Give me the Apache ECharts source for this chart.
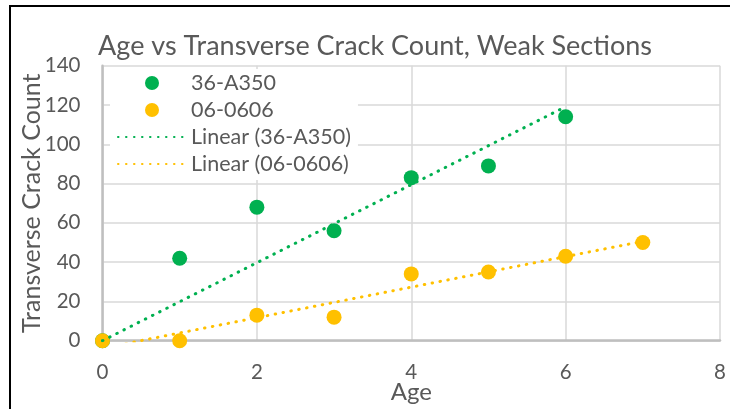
<!DOCTYPE html>
<html><head><meta charset="utf-8">
<script src="https://cdn.jsdelivr.net/npm/echarts@6/dist/echarts.min.js"></script>
<style>html,body{margin:0;padding:0;background:#fff}#c{width:730px;height:409px}</style>
</head><body><div id="c"></div>
<script>
// Data
const ages36 = [0, 1, 2, 3, 4, 5, 6];
const counts36 = [0, 42, 68, 56, 83, 89, 114];
const ages06 = [0, 1, 2, 3, 4, 5, 6, 7];
const counts06 = [0, 0, 13, 12, 34, 35, 43, 50];
const name36 = '36-A350';
const name06 = '06-0606';
const titleText = 'Age vs Transverse Crack Count, Weak Sections';
const xName = 'Age';
const yName = 'Transverse Crack Count';

// Excel-style linear trendlines (least squares fit of the data above)
function fitThroughOrigin(xs, ys) {
  let sxy = 0, sxx = 0;
  xs.forEach((x, i) => { sxy += x * ys[i]; sxx += x * x; });
  return { a: 0, b: sxy / sxx };
}
function fitOLS(xs, ys) {
  const n = xs.length;
  const mx = xs.reduce((s, v) => s + v, 0) / n;
  const my = ys.reduce((s, v) => s + v, 0) / n;
  let sxy = 0, sxx = 0;
  xs.forEach((x, i) => { sxy += (x - mx) * (ys[i] - my); sxx += (x - mx) * (x - mx); });
  const b = sxy / sxx;
  return { a: my - b * mx, b: b };
}
function trendPoints(xs, fit) {
  const x0 = Math.min.apply(null, xs), x1 = Math.max.apply(null, xs);
  return [[x0, fit.a + fit.b * x0], [x1, fit.a + fit.b * x1]];
}
const trend36 = trendPoints(ages36, fitThroughOrigin(ages36, counts36));
const trend06 = trendPoints(ages06, fitOLS(ages06, counts06));

const GREEN = '#00B050', YELLOW = '#FFC000', TXT = '#595959';
const FONT = 'Lato';
const chart = echarts.init(document.getElementById('c'), null, { renderer: 'canvas' });
chart.setOption({
  animation: false,
  backgroundColor: '#fff',
  textStyle: { fontFamily: FONT },
  title: {
    text: titleText, left: 370, top: 28, textAlign: 'center',
    textStyle: { fontFamily: FONT, fontSize: 27, fontWeight: 'normal', color: TXT }
  },
  grid: { left: 102.5, right: 10, top: 65.7, bottom: 68.3, containLabel: false, outerBoundsMode: 'none' },
  legend: {
    orient: 'vertical', left: 110, top: 69,
    data: [
      { name: name36 },
      { name: name06 },
      { name: 'Linear (' + name36 + ')', itemStyle: { opacity: 0 } },
      { name: 'Linear (' + name06 + ')', itemStyle: { opacity: 0 } }
    ],
    itemWidth: 68, itemHeight: 14, itemGap: 5,
    padding: [3, 7, 5, 7],
    backgroundColor: '#fff',
    textStyle: { fontFamily: FONT, fontSize: 21.5, color: TXT, lineHeight: 22 },
    z: 10
  },
  xAxis: {
    type: 'value', min: 0, max: 8, interval: 2,
    name: xName, nameLocation: 'middle', nameGap: 40, nameMoveOverlap: false,
    nameTextStyle: { fontFamily: FONT, fontSize: 24, color: TXT },
    axisLine: { show: true, onZero: false, lineStyle: { color: '#bfbfbf', width: 2.5 } },
    axisTick: { show: false },
    axisLabel: { fontFamily: FONT, fontSize: 20.5, color: TXT, margin: 21 },
    splitLine: { show: true, lineStyle: { color: '#d9d9d9', width: 1.5 } }
  },
  yAxis: {
    type: 'value', min: 0, max: 140, interval: 20,
    name: yName, nameLocation: 'middle', nameGap: 58, nameMoveOverlap: false,
    nameTextStyle: { fontFamily: FONT, fontSize: 25, color: TXT },
    axisLine: { show: true, onZero: false, lineStyle: { color: '#bfbfbf', width: 2.5 } },
    axisTick: { show: false },
    axisLabel: { fontFamily: FONT, fontSize: 20.5, color: TXT, margin: 22 },
    splitLine: { show: true, lineStyle: { color: '#d9d9d9', width: 1.5 } }
  },
  series: [
    { name: name36, type: 'scatter', symbol: 'circle', symbolSize: 15,
      itemStyle: { color: GREEN, opacity: 1 },
      data: ages36.map((x, i) => [x, counts36[i]]) },
    { name: name06, type: 'scatter', symbol: 'circle', symbolSize: 15,
      itemStyle: { color: YELLOW, opacity: 1 },
      data: ages06.map((x, i) => [x, counts06[i]]) },
    { name: 'Linear (' + name36 + ')', type: 'line', symbol: 'none', clip: true,
      color: GREEN,
      lineStyle: { color: GREEN, width: 3, type: [0.5, 7.5], cap: 'round' },
      data: trend36 },
    { name: 'Linear (' + name06 + ')', type: 'line', symbol: 'none', clip: true,
      color: YELLOW,
      lineStyle: { color: YELLOW, width: 3, type: [0.5, 7.5], cap: 'round' },
      data: trend06 }
  ],
  graphic: [
    { type: 'line', shape: { x1: 10, y1: 6, x2: 730, y2: 6 }, style: { stroke: '#000', lineWidth: 2 }, z: 100 },
    { type: 'line', shape: { x1: 10, y1: 5, x2: 10, y2: 409 }, style: { stroke: '#000', lineWidth: 2 }, z: 100 }
  ]
});
</script></body></html>
